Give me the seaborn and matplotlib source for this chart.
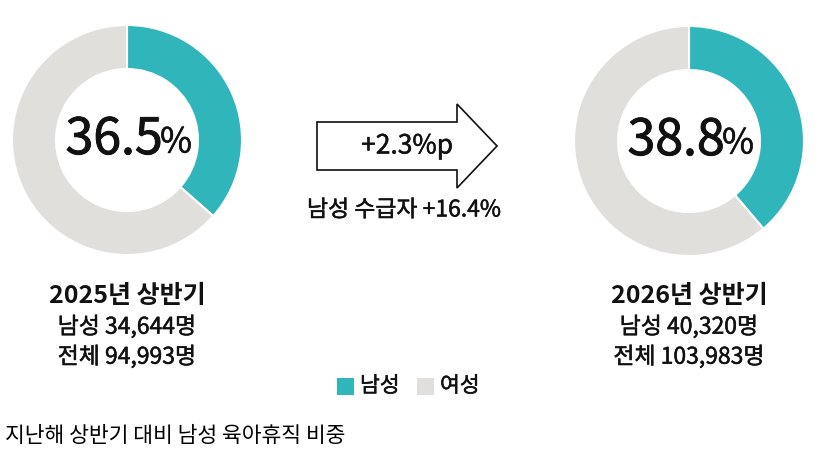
import matplotlib
matplotlib.use("Agg")
import matplotlib.pyplot as plt
from matplotlib.patches import Polygon, Rectangle
import matplotlib.patheffects as pe
import seaborn as sns

# data
periods = ["2025년 상반기", "2026년 상반기"]
male_share = [36.5, 38.8]
male_count = [34644, 40320]
total_count = [94993, 103983]
share_change = "+2.3%p"
male_growth = "남성 수급자 +16.4%"
legend_labels = ["남성", "여성"]
caption = "지난해 상반기 대비 남성 육아휴직 비중"

sns.set_theme(style="white")
plt.rcParams['font.family'] = ['Noto Sans CJK KR', 'DejaVu Sans']

colors = ["#30b5bb", "#e1dfdc"]
ink = "#111111"
W, H = 819, 458

# the reference type is a medium weight: thicken regular glyphs a little
thick = [pe.withStroke(linewidth=0.35, foreground=ink)]
thick_big = [pe.withStroke(linewidth=0.7, foreground=ink)]

fig = plt.figure(figsize=(W / 100, H / 100), dpi=100)
ax = fig.add_axes([0, 0, 1, 1])
ax.set_xlim(0, W)
ax.set_ylim(0, H)
ax.set_aspect("equal")
ax.axis("off")


def Y(y):
    return H - y


centers = [(127, 140), (689, 141)]
for i, (cx, cy) in enumerate(centers):
    share = male_share[i]
    ax.pie([share, 100 - share], colors=colors, startangle=90, counterclock=False,
           center=(cx, Y(cy)), radius=115, frame=True,
           wedgeprops=dict(width=44, edgecolor="white", linewidth=1.5))
    ax.text(cx - 13, Y(cy), f"{share}", ha="center", va="center",
            fontsize=36, color=ink, path_effects=thick_big)
    ax.text(cx + 33, Y(cy + 3), "%", ha="left", va="center",
            fontsize=25, color=ink, path_effects=thick)
    ax.text(cx, Y(296), periods[i], ha="center", va="center",
            fontsize=18, fontweight="bold", color=ink)
    ax.text(cx, Y(327), f"남성 {male_count[i]:,}명", ha="center", va="center",
            fontsize=16.5, color=ink, path_effects=thick)
    ax.text(cx, Y(357), f"전체 {total_count[i]:,}명", ha="center", va="center",
            fontsize=16.5, color=ink, path_effects=thick)

# the arrow linking the two periods
arrow = Polygon([(317, Y(122)), (457, Y(122)), (457, Y(104)), (497, Y(146)),
                 (457, Y(188)), (457, Y(170)), (317, Y(170))],
                closed=True, facecolor="white", edgecolor=ink, linewidth=1.2)
ax.add_patch(arrow)
ax.text(407, Y(146), share_change, ha="center", va="center",
        fontsize=19, color=ink, path_effects=thick)
ax.text(404, Y(210), male_growth, ha="center", va="center",
        fontsize=16.5, color=ink, path_effects=thick)

# legend
lx = [337, 417]
for x, lab, c in zip(lx, legend_labels, colors):
    ax.add_patch(Rectangle((x, Y(395)), 17, 17, facecolor=c, edgecolor="none"))
    ax.text(x + 23, Y(386), lab, ha="left", va="center",
            fontsize=15.5, color=ink, path_effects=thick)

ax.text(5, Y(436), caption, ha="left", va="center", fontsize=15.5, color="#000000")

fig.savefig("out.png", dpi=100)
